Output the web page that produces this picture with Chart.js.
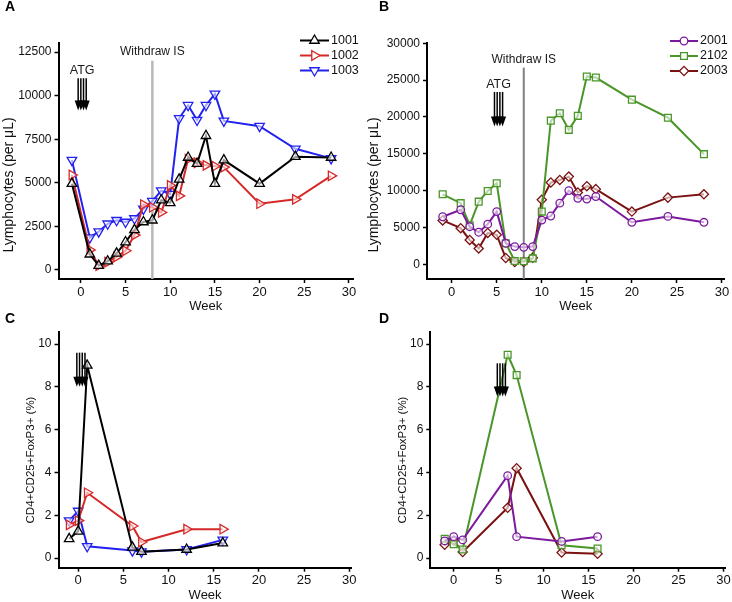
<!DOCTYPE html>
<html>
<head>
<meta charset="utf-8">
<script src="https://cdn.jsdelivr.net/npm/chart.js@4.4.1/dist/chart.umd.min.js"></script>
<style>
  html, body { margin: 0; padding: 0; background: #fff; }
  #wrap { position: relative; width: 732px; height: 602px; overflow: hidden; }
  canvas { position: absolute; }
</style>
</head>
<body>
<div id="wrap">
  <canvas id="cA" width="366" height="315" style="left:0;top:0"></canvas>
  <canvas id="cB" width="380" height="315" style="left:366px;top:0"></canvas>
  <canvas id="cC" width="366" height="302" style="left:0;top:300px"></canvas>
  <canvas id="cD" width="380" height="302" style="left:366px;top:300px"></canvas>
</div>
<script>
// ---- данные (читались с картинки) -----------------------------------------
const weeksLym  = [-1, 1, 2, 3, 4, 5, 6, 7, 8, 9, 10, 11, 12, 13, 14, 15, 16, 20, 24, 28];
const weeksTreg = [-1, 0, 1, 6, 7, 12, 16];

const lym1001 = [4950, 900, 250, 500, 950, 1600, 2300, 2750, 2850, 4000, 3850, 5200, 6450, 6100, 7700, 4950, 6300, 4950, 6500, 6450];
const lym1002 = [5450, 1150, 250, 450, 750, 1100, 2000, 3750, 3600, 3300, 4850, 4250, 6350, 6150, 6000, 5950, 5900, 3800, 4050, 5400];
const lym1003 = [6300, 1850, 2200, 2650, 2850, 2750, 2950, 3500, 3950, 4550, 4350, 8700, 9450, 8600, 9450, 10100, 8550, 8250, 6950, 6400];

const lym2001 = [6450, 7400, 5100, 4350, 5450, 7150, 2850, 2400, 2300, 2400, 6000, 6550, 8300, 10000, 8950, 8850, 9200, 5700, 6500, 5700];
const lym2102 = [9500, 8300, 5300, 8500, 9950, 11000, 2850, 450, 400, 800, 7150, 19500, 20500, 18250, 20150, 25500, 25350, 22350, 19900, 14950];
const lym2003 = [5950, 4900, 3300, 2150, 4250, 4000, 850, 300, 300, 900, 8750, 11100, 11450, 11900, 9750, 10600, 10200, 7150, 9050, 9500];

const treg1001 = [0.9, 1.25, 9.0, 0.5, 0.3, 0.4, 0.7];
const treg1002 = [1.55, 1.75, 3.05, 1.5, 0.75, 1.35, 1.35];
const treg1003 = [1.75, 2.2, 0.55, 0.35, 0.3, 0.4, 0.85];

const treg2001 = [0.8, 1.0, 0.85, 3.85, 1.0, 0.78, 1.0];
const treg2102 = [0.9, 0.65, 0.4, 9.5, 8.55, 0.6, 0.45];
const treg2003 = [0.62, 0.82, 0.28, 2.35, 4.2, 0.26, 0.2];

const xTicks    = [0, 5, 10, 15, 20, 25, 30];
const yTicksA   = [0, 2500, 5000, 7500, 10000, 12500];
const yTicksB   = [0, 5000, 10000, 15000, 20000, 25000, 30000];
const yTicksCD  = [0, 2, 4, 6, 8, 10];

// ATG — стрелки (недели введения), Withdraw IS — неделя 8
const atgA = [-0.3, 0, 0.3, 0.6];
const atgB = [4.75, 5.05, 5.35, 5.65];
const atgC = [-0.15, 0.15, 0.45, 0.75];
const atgD = [4.85, 5.15, 5.45, 5.75];
const withdrawWeek = 8;

// ---- стили -----------------------------------------------------------------
const FONT = "'Liberation Sans', Arial, Helvetica, sans-serif";
const MARK = {
  '1001': { color: '#000000', pointStyle: 'triangle', rotation: 0,   radius: 5.5 },
  '1002': { color: '#d62828', pointStyle: 'triangle', rotation: 90,  radius: 5.5 },
  '1003': { color: '#2222f0', pointStyle: 'triangle', rotation: 180, radius: 5.5 },
  '2001': { color: '#7b1a9c', pointStyle: 'circle',   rotation: 0,   radius: 3.8 },
  '2102': { color: '#4a9628', pointStyle: 'rect',     rotation: 0,   radius: 4.8 },
  '2003': { color: '#7a1212', pointStyle: 'rectRot',  rotation: 0,   radius: 4.6 },
};

function ds(name, xs, ys) {
  const m = MARK[name];
  return {
    label: name,
    data: xs.map((w, i) => ({ x: w, y: ys[i] })),
    borderColor: m.color, borderWidth: 2, tension: 0, fill: false,
    pointStyle: m.pointStyle, pointRotation: m.rotation, pointRadius: m.radius,
    pointBorderColor: m.color, pointBackgroundColor: 'rgba(255,255,255,0.6)', pointBorderWidth: 1.3,
  };
}

// декор панели: буква, подпись оси Y, Withdraw IS, стрелки ATG, легенда
const decor = {
  id: 'decor',
  beforeDatasetsDraw(chart, args, o) {
    if (!o.withdraw) return;
    const { ctx, chartArea, scales: { x, y } } = chart;
    const px = x.getPixelForValue(o.withdraw.week);
    const top = y.getPixelForValue(o.withdraw.from);
    ctx.save();
    ctx.strokeStyle = o.withdraw.color; ctx.lineWidth = o.withdraw.width;
    ctx.beginPath(); ctx.moveTo(px, top); ctx.lineTo(px, chartArea.bottom); ctx.stroke();
    ctx.fillStyle = '#1a1a1a'; ctx.font = `12px ${FONT}`;
    ctx.textAlign = 'center'; ctx.textBaseline = 'middle';
    ctx.fillText('Withdraw IS', px, top - o.withdraw.gap);
    ctx.restore();
  },
  afterDatasetsDraw(chart, args, o) {
    const { ctx, scales: { x, y } } = chart;
    ctx.save();
    // ATG
    if (o.atg) {
      const yTop = y.getPixelForValue(o.atg.from), yTip = y.getPixelForValue(o.atg.to);
      ctx.strokeStyle = '#000'; ctx.fillStyle = '#000'; ctx.lineWidth = 1.5;
      for (const w of o.atg.weeks) {
        const px = x.getPixelForValue(w);
        ctx.beginPath(); ctx.moveTo(px, yTop); ctx.lineTo(px, yTip - 8); ctx.stroke();
        ctx.beginPath(); ctx.moveTo(px - 3.5, yTip - 10); ctx.lineTo(px + 3.5, yTip - 10); ctx.lineTo(px, yTip); ctx.closePath(); ctx.fill();
      }
      if (o.atg.label) {
        const cx = (x.getPixelForValue(o.atg.weeks[0]) + x.getPixelForValue(o.atg.weeks[o.atg.weeks.length - 1])) / 2;
        ctx.fillStyle = '#1a1a1a'; ctx.font = `12.5px ${FONT}`;
        ctx.textAlign = 'center'; ctx.textBaseline = 'middle';
        ctx.fillText('ATG', cx, yTop - o.atg.gap);
      }
    }
    // легенда
    if (o.legend) {
      const L = o.legend;
      L.items.forEach((name, i) => {
        const m = MARK[name], yy = L.y + i * L.dy;
        ctx.strokeStyle = m.color; ctx.lineWidth = 2;
        ctx.beginPath(); ctx.moveTo(L.x1, yy); ctx.lineTo(L.x2, yy); ctx.stroke();
        ctx.fillStyle = '#fff'; ctx.lineWidth = 1.3;
        Chart.helpers.drawPoint(ctx, { pointStyle: m.pointStyle, rotation: m.rotation, radius: m.radius, borderWidth: 1.3 }, (L.x1 + L.x2) / 2, yy);
        ctx.fillStyle = '#111'; ctx.font = `12.5px ${FONT}`;
        ctx.textAlign = 'left'; ctx.textBaseline = 'middle';
        ctx.fillText(name, L.x2 + 2, yy);
      });
    }
    // подпись оси Y
    if (o.yTitle) {
      ctx.save();
      ctx.translate(o.yTitle.x, o.yTitle.y); ctx.rotate(-Math.PI / 2);
      ctx.fillStyle = '#111'; ctx.font = `${o.yTitle.size}px ${FONT}`;
      ctx.textAlign = 'center'; ctx.textBaseline = 'middle';
      ctx.fillText(o.yTitle.text, 0, 0);
      ctx.restore();
    }
    // буква панели
    if (o.letter) {
      ctx.fillStyle = '#000'; ctx.font = `bold 14px ${FONT}`;
      ctx.textAlign = 'left'; ctx.textBaseline = 'middle';
      ctx.fillText(o.letter.text, o.letter.x, o.letter.y);
    }
    ctx.restore();
  },
};

const gridOpts = { drawOnChartArea: false, drawTicks: true, tickLength: 4, tickColor: '#000', tickWidth: 1.5 };
const borderOpts = { display: true, color: '#000', width: 2 };

function axisX(min, max, height, titlePad) {
  return {
    type: 'linear', min, max,
    afterBuildTicks: s => { s.ticks = xTicks.map(v => ({ value: v })); },
    afterFit: s => { s.height = height; },
    border: borderOpts, grid: gridOpts,
    ticks: { color: '#111', font: { family: FONT, size: 13, lineHeight: 1 }, padding: 2.5, maxRotation: 0, autoSkip: false, callback: v => String(v) },
    title: { display: true, text: 'Week', color: '#111', font: { family: FONT, size: 13, lineHeight: 1 }, padding: { top: 0, bottom: titlePad } },
  };
}
function axisY(min, max, ticksArr, width) {
  return {
    type: 'linear', min, max,
    afterBuildTicks: s => { s.ticks = ticksArr.map(v => ({ value: v })); },
    afterFit: s => { s.width = width; },
    border: borderOpts, grid: gridOpts,
    ticks: { color: '#111', font: { family: FONT, size: 12 }, padding: 3, autoSkip: false, callback: v => String(v) },
  };
}

function panel(id, datasets, pad, xAxis, yAxis, decorOpts) {
  return new Chart(document.getElementById(id), {
    type: 'line',
    data: { datasets },
    options: {
      responsive: false, animation: false, events: [],
      layout: { padding: pad },
      plugins: { legend: { display: false }, tooltip: { enabled: false }, decor: decorOpts },
      scales: { x: xAxis, y: yAxis },
    },
    plugins: [decor],
  });
}

panel('cA',
  [ds('1001', weeksLym, lym1001), ds('1002', weeksLym, lym1002), ds('1003', weeksLym, lym1003)],
  { left: 0, top: 43, right: 13, bottom: 0 },
  axisX(-2.5, 30.45, 36, 2), axisY(-520, 13020, yTicksA, 58.5),
  {
    letter: { text: 'A', x: 5, y: 7.5 },
    yTitle: { text: 'Lymphocytes (per μL)', x: 9, y: 185, size: 14 },
    withdraw: { week: withdrawWeek, from: 12000, color: '#b8b8b8', width: 2.5, gap: 9 },
    atg: { weeks: atgA, from: 11000, to: 9150, label: true, gap: 8 },
    legend: { items: ['1001', '1002', '1003'], x1: 300, x2: 329, y: 40.5, dy: 15 },
  });

panel('cB',
  [ds('2001', weeksLym, lym2001), ds('2102', weeksLym, lym2102), ds('2003', weeksLym, lym2003)],
  { left: 0, top: 43.3, right: 21.7, bottom: 0 },
  axisX(-2.74, 30.26, 36, 2), axisY(-2000, 30000, yTicksB, 61),
  {
    letter: { text: 'B', x: 13, y: 7.5 },
    yTitle: { text: 'Lymphocytes (per μL)', x: 8.5, y: 185, size: 14 },
    withdraw: { week: withdrawWeek, from: 26700, color: '#808080', width: 2, gap: 8 },
    atg: { weeks: atgB, from: 23400, to: 18700, label: true, gap: 7 },
    legend: { items: ['2001', '2102', '2003'], x1: 304, x2: 332, y: 41, dy: 15 },
  });

panel('cC',
  [ds('1001', weeksTreg, treg1001), ds('1002', weeksTreg, treg1002), ds('1003', weeksTreg, treg1003)],
  { left: 0, top: 32.3, right: 14.3, bottom: 0 },
  axisX(-2.18, 30.27, 34.3, 0.5), axisY(-0.45, 10.55, yTicksCD, 58.5),
  {
    letter: { text: 'C', x: 5, y: 19.5 },
    yTitle: { text: 'CD4+CD25+FoxP3+ (%)', x: 31, y: 160, size: 11.5 },
    atg: { weeks: atgC, from: 9.6, to: 8.0, label: false },
  });

panel('cD',
  [ds('2001', weeksTreg, treg2001), ds('2102', weeksTreg, treg2102), ds('2003', weeksTreg, treg2003)],
  { left: 0, top: 32.3, right: 20.7, bottom: 0 },
  axisX(-2.6, 30.2, 34.3, 0.5), axisY(-0.45, 10.55, yTicksCD, 64.3),
  {
    letter: { text: 'D', x: 13, y: 19.5 },
    yTitle: { text: 'CD4+CD25+FoxP3+ (%)', x: 36.7, y: 160, size: 11.5 },
    atg: { weeks: atgD, from: 9.1, to: 7.55, label: false },
  });
</script>
</body>
</html>
